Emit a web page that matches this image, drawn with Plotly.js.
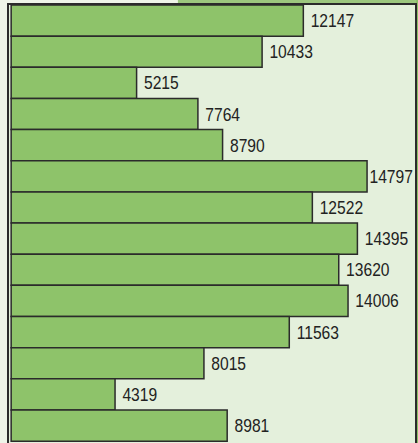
<!DOCTYPE html>
<html>
<head>
<meta charset="utf-8">
<script src="https://cdn.plot.ly/plotly-3.0.1.min.js"></script>
<style>html,body{margin:0;padding:0;background:#eef4e8;}#chart{width:418px;height:443px;}</style>
</head>
<body>
<div id="chart"></div>
<script>
// Data (top to bottom)
var categories = ["R1","R2","R3","R4","R5","R6","R7","R8","R9","R10","R11","R12","R13","R14"];
var values = [12147, 10433, 5215, 7764, 8790, 14797, 12522, 14395, 13620, 14006, 11563, 8015, 4319, 8981];

var trace = {
  type: 'bar',
  orientation: 'h',
  y: categories,
  x: values,
  width: 1,
  marker: {color: '#8ec36a', line: {color: '#2b2b2b', width: 1.5}},
  text: values.map(String),
  texttemplate: '\u00a0%{text}',
  textposition: 'outside',
  constraintext: 'none',
  cliponaxis: false,
  textfont: {family: '"Liberation Sans", Arial, sans-serif', size: 19, color: '#222222'},
  hoverinfo: 'none'
};

var layout = {
  width: 418,
  height: 443,
  margin: {l: 9, r: 3, t: 5, b: 0, pad: 0},
  paper_bgcolor: '#eef4e8',
  plot_bgcolor: '#e4f0dc',
  showlegend: false,
  bargap: 0,
  xaxis: {
    range: [-90, 16790],
    side: 'top',
    showgrid: false,
    zeroline: false,
    showticklabels: false,
    ticks: '',
    showline: true,
    linecolor: '#2b2b2b',
    linewidth: 2,
    mirror: false
  },
  yaxis: {
    type: 'category',
    categoryorder: 'array',
    categoryarray: categories,
    range: [13.56, -0.5],
    showgrid: false,
    zeroline: false,
    showticklabels: false,
    ticks: '',
    showline: true,
    linecolor: '#2b2b2b',
    linewidth: 2,
    mirror: true
  },
  shapes: [
    {type: 'rect', xref: 'paper', yref: 'paper', x0: 0.416, x1: 1.01, y0: 1.0025, y1: 1.02, fillcolor: '#9cc77e', line: {width: 0}, layer: 'below'},
    {type: 'rect', xref: 'paper', yref: 'paper', x0: 1.0028, x1: 1.01, y0: -0.01, y1: 1.02, fillcolor: '#8cbf68', line: {width: 0}, layer: 'below'}
  ]
};

function condenseLabels(gd) {
  // Condense the label glyphs to mimic a narrow typeface, keeping the left edge
  var gdLeft = gd.getBoundingClientRect().left;
  var plotRight = gd._fullLayout._size.l + gd._fullLayout._size.w - 2;
  var texts = gd.querySelectorAll('text.bartext');
  texts.forEach(function (t) {
    var r0 = t.getBoundingClientRect();
    var left0 = r0.left - gdLeft;
    var w = t.getComputedTextLength();
    var nw = w * 0.823;
    t.setAttribute('textLength', nw.toFixed(1));
    t.setAttribute('lengthAdjust', 'spacingAndGlyphs');
    var r1 = t.getBoundingClientRect();
    var left1 = r1.left - gdLeft;
    var desired = Math.min(left0, plotRight - nw);
    var x = parseFloat(t.getAttribute('x')) || 0;
    t.setAttribute('x', (x - (left1 - desired)).toFixed(1));
  });
}

Plotly.newPlot('chart', [trace], layout, {displayModeBar: false, staticPlot: true}).then(condenseLabels);
</script>
</body>
</html>
